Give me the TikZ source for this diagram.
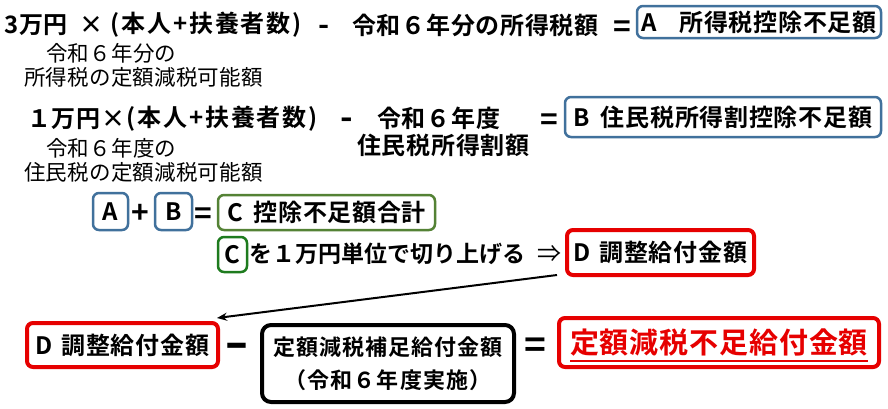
\documentclass[tikz,border=0pt]{standalone}
\usepackage{fontspec}
\usetikzlibrary{arrows.meta,calc}
\newfontfamily\jpb{Noto Sans CJK JP Bold}[LetterSpace=3]
\newfontfamily\jpbt{Noto Sans CJK JP Bold}[LetterSpace=0]
\newfontfamily\jpbp{Noto Sans CJK JP Bold}[LetterSpace=8]
\newfontfamily\jpbw{Noto Sans CJK JP Bold}[LetterSpace=5]
\newfontfamily\jpr{Noto Sans CJK JP}[LetterSpace=1]
\definecolor{boxblue}{HTML}{41719C}
\definecolor{boxolive}{HTML}{548235}
\definecolor{boxgreen}{HTML}{1E7B1E}
\definecolor{boxred}{HTML}{E60000}
\newcommand\myul[1]{\setbox0\hbox{#1}\rlap{\smash{\rule[-8.5pt]{\wd0}{2.2pt}}}\box0}
\tikzset{
  bt/.style={font=\jpb\fontsize{24}{28}\selectfont, inner sep=0pt, anchor=west},
  bp/.style={font=\jpbp\fontsize{24}{28}\selectfont, inner sep=0pt, anchor=west},
  rt/.style={font=\jpr\fontsize{21.5}{25}\selectfont, inner sep=0pt, anchor=west},
  minus/.style={font=\jpb\fontsize{30}{30}\selectfont, inner sep=0pt, anchor=center},
  eqsign/.style={font=\jpbt\fontsize{30}{30}\selectfont, inner sep=0pt, anchor=center},
  boxbase/.style={inner sep=0pt, rounded corners=6pt, font=\jpb\fontsize{24}{28}\selectfont},
  bluebox/.style={boxbase, draw=boxblue, line width=2.5pt},
  olivebox/.style={boxbase, draw=boxolive, line width=2.5pt},
  greenbox/.style={boxbase, draw=boxgreen, line width=2.5pt},
  redbox/.style={boxbase, draw=boxred, line width=4pt},
  blackbox/.style={boxbase, draw=black, line width=4pt, rounded corners=9pt,
    font=\jpbw\fontsize{22}{33}\selectfont, align=center},
  finbox/.style={boxbase, draw=boxred, line width=4pt, text=boxred,
    font=\jpb\fontsize{29}{30}\selectfont},
  flow/.style={line width=2pt, -{Stealth[length=10pt,width=8pt]}}
}
\begin{document}
\begin{tikzpicture}[x=1pt,y=-1pt]
\useasboundingbox (0,0) rectangle (888,408);
\fill[white] (0,0) rectangle (888,408);

% line 1
\node[bt] (l1a) at (4,25) {3万円};
\node[bt] (l1b) at (79,25) {×};
\node[bp] (l1c) at (110,25) {(本人+扶養者数)};
\node[minus] (l1d) at (324,30) {-};
\node[bt] (l1e) at (352,25) {令和６年分の所得税額};
\node[eqsign] (l1f) at (622.5,29) {=};
\node[bluebox, minimum width=244pt, minimum height=32pt] (A) at (759,22) {A\hspace{0.95em}所得税控除不足額};

\node[rt] (s1a) at (46,53) {令和６年分の};
\node[rt] (s1b) at (24,77) {所得税の定額減税可能額};

% line 2
\node[bt] (l2a) at (27,119) {１万円×};
\node[bp] (l2b) at (126,119) {(本人+扶養者数)};
\node[minus, font=\jpb\fontsize{34}{34}\selectfont] (l2c) at (347,124) {-};
\node[bt] (l2d) at (377,118) {令和６年度};
\node[bt] (l2e) at (357,145) {住民税所得割額};
\node[eqsign] (l2f) at (549.5,122) {=};
\node[bluebox, minimum width=316pt, minimum height=40pt] (B) at (723,117) {B\hspace{0.45em}住民税所得割控除不足額};

\node[rt] (s2a) at (46,148) {令和６年度の};
\node[rt] (s2b) at (24,172) {住民税の定額減税可能額};

% line 3
\node[bluebox, minimum width=35pt, minimum height=37pt] (a2) at (110.5,211.5) {A};
\node[eqsign] (plus) at (140,213.5) {+};
\node[bluebox, minimum width=37pt, minimum height=37pt] (b2) at (173.5,211.5) {B};
\node[eqsign] (eq3) at (203.5,216) {=};
\node[olivebox, minimum width=217pt, minimum height=35pt] (C) at (326.5,212.5) {C\hspace{0.45em}控除不足額合計};

% line 4
\node[greenbox, minimum width=29pt, minimum height=35pt] (c2) at (232.5,254.5) {C};
\node[bt, font=\jpbt\fontsize{23}{27}\selectfont] (round) at (249,254) {を１万円単位で切り上げる};
\node[rt, font=\jpr\fontsize{24}{28}\selectfont] (imp) at (537,254) {⇒};
\node[redbox, minimum width=187pt, minimum height=45pt] (D1) at (660.5,252.5) {D\hspace{0.35em}調整給付金額};

% line 5
\node[redbox, minimum width=191pt, minimum height=44pt] (D2) at (122.5,345) {D\hspace{0.35em}調整給付金額};
\node[minus, font=\jpb\fontsize{48}{48}\selectfont] (minus5) at (236.5,351) {\scalebox{1.4}[1]{-}};
\node[blackbox, minimum width=252pt, minimum height=77pt] (S) at (388,363.5) {定額減税補足給付金額\\（令和６年度実施）};
\node[eqsign, font=\jpbt\fontsize{37}{37}\selectfont] (eq5) at (535,348) {=};
\node[finbox, minimum width=320pt, minimum height=49pt] (F) at (719,342.5) {\myul{定額減税不足給付金額}};

\draw[flow] ($(D1.south west)+(-8,-2)$) -- ($(D2.north east)+(-3,-3)$);
\end{tikzpicture}
\end{document}
